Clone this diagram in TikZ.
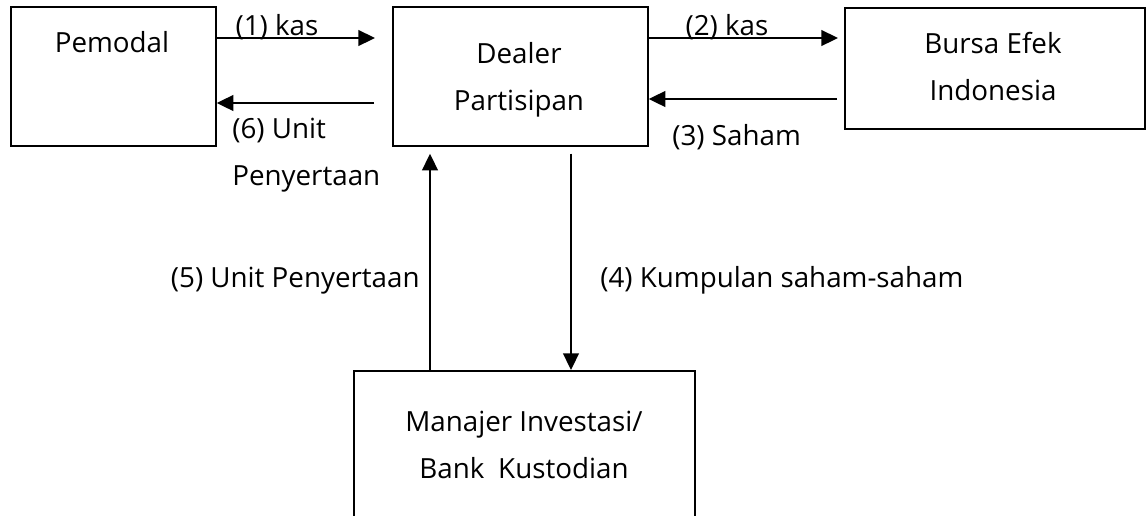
\documentclass[tikz,border=0pt]{standalone}
\usepackage{fontspec}
\setmainfont{Open Sans}
\usetikzlibrary{arrows.meta}

\tikzset{
  box/.style={draw, line width=1pt, rectangle, inner sep=0pt, anchor=north west},
  flow/.style={line width=1pt, -{Triangle[length=9.5pt,width=9pt]}},
  txt/.style={inner sep=0pt, align=center, font=\fontsize{15.8}{26.6}\selectfont},
}

\begin{document}
\begin{tikzpicture}[x=0.02cm,y=-0.02cm]
	\useasboundingbox (0,0) rectangle (1147,515);
	\clip (0,0) rectangle (1147,515);
	% boxes
	\node[box, minimum width=4.1cm, minimum height=2.78cm] (pemodal) at (10,6) {};
	\node[box, minimum width=5.1cm, minimum height=2.78cm] (dealer) at (392,6) {};
	\node[box, minimum width=6cm, minimum height=2.42cm] (bursa) at (844,7) {};
	\node[box, minimum width=6.82cm, minimum height=3.4cm] (manajer) at (353,370) {};
	% box texts (base = last line)
	\node[txt, anchor=base] (tpemodal) at (112,52) {Pemodal};
	\node[txt, anchor=base] (tdealer) at (519,110) {Dealer\\Partisipan};
	\node[txt, anchor=base] (tbursa) at (993,100) {Bursa Efek\\Indonesia};
	\node[txt, anchor=base] (tmanajer) at (524,478) {Manajer Investasi/\\Bank\hspace{0.5em}Kustodian};
	% rows and columns of the connectors
	\coordinate (r1) at (0,38);
	\coordinate (r6) at (0,103);
	\coordinate (r3) at (0,99);
	\coordinate (c5) at (430,0);
	\coordinate (c4) at (571,0);
	% connectors
	\draw[flow, shorten >=0.34cm] (pemodal.east |- r1) -- (dealer.west |- r1);
	\draw[flow, shorten <=0.36cm] (dealer.west |- r6) -- (pemodal.east |- r6);
	\draw[flow, shorten >=0.12cm] (dealer.east |- r1) -- (bursa.west |- r1);
	\draw[flow, shorten <=0.14cm] (bursa.west |- r3) -- (dealer.east |- r3);
	\draw[flow, shorten >=0.14cm] (c5 |- manajer.north) -- (c5 |- dealer.south);
	\draw[flow, shorten <=0.14cm] (c4 |- dealer.south) -- (c4 |- manajer.north);
	% labels
	\node[txt, anchor=base] (l1) at (277,35) {(1) kas};
	\node[txt, anchor=base] (l2) at (727,35) {(2) kas};
	\node[txt, anchor=base west, align=left] (l6) at (232,185) {(6) Unit\\Penyertaan};
	\node[txt, anchor=base west] (l3) at (672,145) {(3) Saham};
	\node[txt, anchor=base east] (l5) at (420,287) {(5) Unit Penyertaan};
	\node[txt, anchor=base west] (l4) at (600,287) {(4) Kumpulan saham-saham};
\end{tikzpicture}
\end{document}
